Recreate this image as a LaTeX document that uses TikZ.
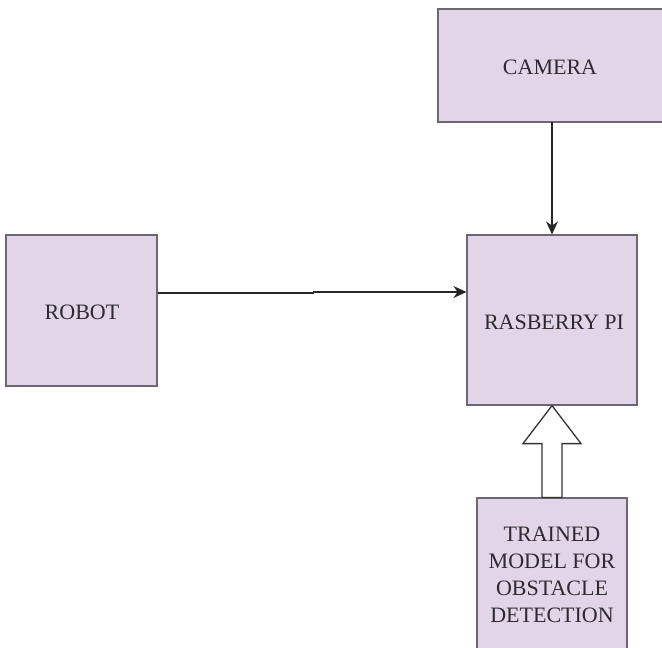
\documentclass[tikz,border=0pt]{standalone}
\usepackage{fontspec}
\setmainfont{Liberation Serif}
\usetikzlibrary{arrows.meta,calc}
\definecolor{boxfill}{HTML}{E1D5E7}
\definecolor{boxline}{HTML}{6E6673}
\definecolor{txt}{HTML}{2E2A30}
\tikzset{
  blk/.style={draw=boxline, fill=boxfill, line width=1.2pt, inner sep=0pt,
    font=\fontsize{22}{27}\selectfont, text=txt, align=center},
  conn/.style={draw=black!85, line width=1.3pt, -{Stealth[length=13pt,width=12pt]}},
}
\begin{document}
\begin{tikzpicture}[x=1pt,y=-1pt]
\clip (0,0) rectangle (662,648);
\fill[white] (0,0) rectangle (662,648);
% boxes
\node[blk, minimum width=240pt, minimum height=113pt] (cam) at (558,65.5) {};
\node[font=\fontsize{22}{27}\selectfont, text=txt] (camt) at (550,67) {CAMERA};
\node[blk, minimum width=151pt, minimum height=151pt] (robot) at (81.5,310.5) {};
\node[font=\fontsize{22}{27}\selectfont, text=txt] at (82,312) {ROBOT};
\node[blk, minimum width=170pt, minimum height=170pt] (rpi) at (552,320) {};
\node[font=\fontsize{22}{27}\selectfont, text=txt] at (554,322) {RASBERRY PI};
\node[blk, minimum width=150pt, minimum height=160pt] (tm) at (552,578) {};
\node[font=\fontsize{22}{27}\selectfont, text=txt, align=center] at (552,575) {TRAINED\\MODEL FOR\\OBSTACLE\\DETECTION};
% connectors
\coordinate (k1) at (313,293);
\coordinate (k2) at (313,292);
\draw[draw=black!85, line width=1.3pt] (robot.east |- k1) -- (k1) -- (k2);
\draw[conn] (k2) -- (rpi.west |- k2);
\draw[conn] (552,122) -- (rpi.north);
% hollow block arrow
\draw[draw=black!80, fill=white, line width=1.3pt, line join=miter]
  (rpi.south) -- ($(rpi.south)+(29,38)$) -- ($(rpi.south)+(10,38)$) -- ($(tm.north)+(10,0)$)
  -- ($(tm.north)+(-10,0)$) -- ($(rpi.south)+(-10,38)$) -- ($(rpi.south)+(-29,38)$) -- cycle;
\end{tikzpicture}
\end{document}
